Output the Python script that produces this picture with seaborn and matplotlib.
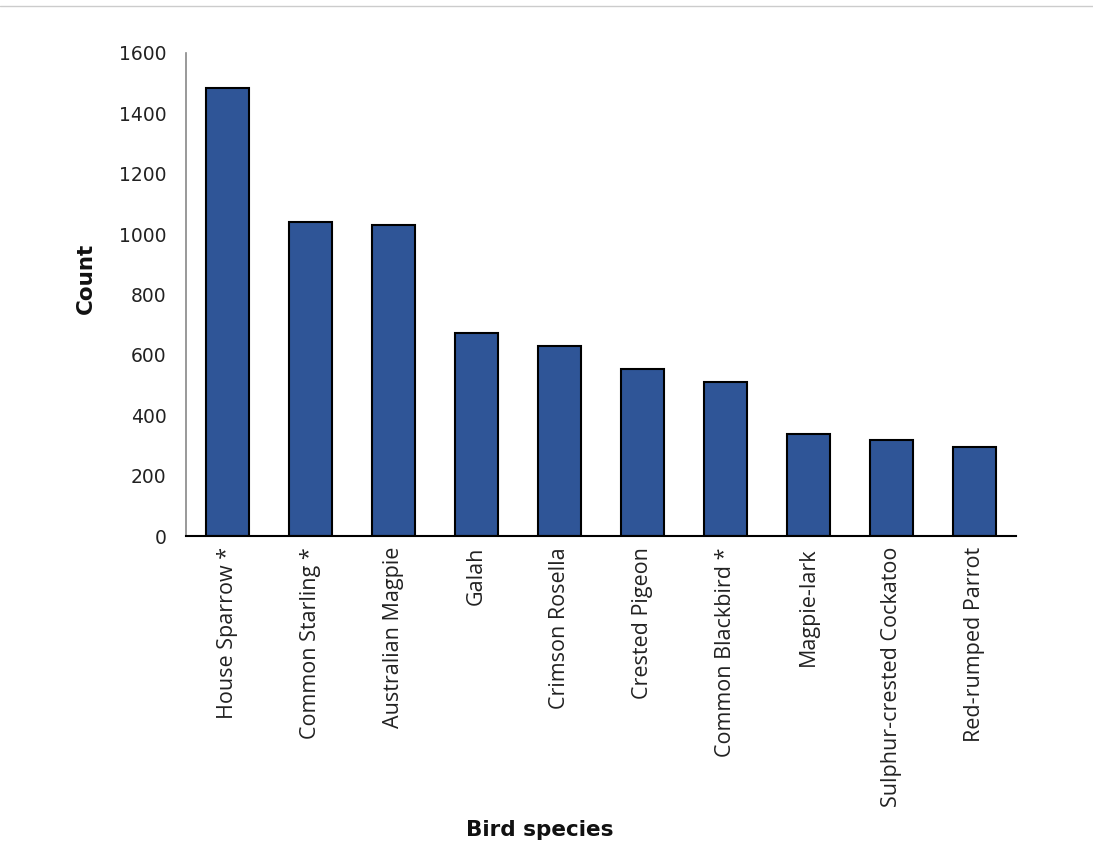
import matplotlib
matplotlib.use("Agg")
import matplotlib.pyplot as plt
import seaborn as sns
import pandas as pd
from matplotlib.lines import Line2D

species = ["House Sparrow *", "Common Starling *", "Australian Magpie", "Galah",
           "Crimson Rosella", "Crested Pigeon", "Common Blackbird *", "Magpie-lark",
           "Sulphur-crested Cockatoo", "Red-rumped Parrot"]
counts = [1484, 1040, 1030, 672, 629, 553, 510, 338, 318, 295]
yticks = [0, 200, 400, 600, 800, 1000, 1200, 1400, 1600]

df = pd.DataFrame({"species": species, "count": counts})

sns.set_theme(style="white")
plt.rcParams['font.family'] = ['DejaVu Sans']

fig = plt.figure(figsize=(10.93, 8.52), dpi=100)
ax = fig.add_axes([186/1093, 1 - 536/852, (1016-186)/1093, (536-53)/852])

sns.barplot(data=df, x="species", y="count", color="#2F5597", saturation=1,
            width=0.52, edgecolor="black", linewidth=1.5, ax=ax)

ax.set_ylim(0, 1600)
ax.set_xlim(-0.5, 9.5)
ax.set_yticks(yticks)
ax.set_yticklabels([str(v) for v in yticks], fontsize=13.5, color="#222222")
ax.set_xticks(range(len(species)))
ax.set_xticklabels(species, rotation=90, fontsize=15.5, family="Open Sans", color="#222222")
ax.tick_params(axis="y", length=0, pad=14)
ax.tick_params(axis="x", length=0, pad=8)

for s in ["top", "right"]:
    ax.spines[s].set_visible(False)
ax.spines["left"].set_color("#888888")
ax.spines["left"].set_linewidth(1.2)
ax.spines["bottom"].set_color("black")
ax.spines["bottom"].set_linewidth(1.5)

ax.set_ylabel("")
ax.set_xlabel("")
fig.text(86/1093, 1 - 278/852, "Count", fontsize=15.5, fontweight="bold",
         rotation=90, ha="center", va="center", color="#111111")
fig.text(540/1093, 1 - 830/852, "Bird species", fontsize=15.5, fontweight="bold",
         ha="center", va="center", color="#111111")

fig.add_artist(Line2D([0, 1], [1 - 6/852, 1 - 6/852], color="#cccccc", linewidth=1,
                      transform=fig.transFigure))

fig.savefig("out.png", dpi=100, facecolor="white")
